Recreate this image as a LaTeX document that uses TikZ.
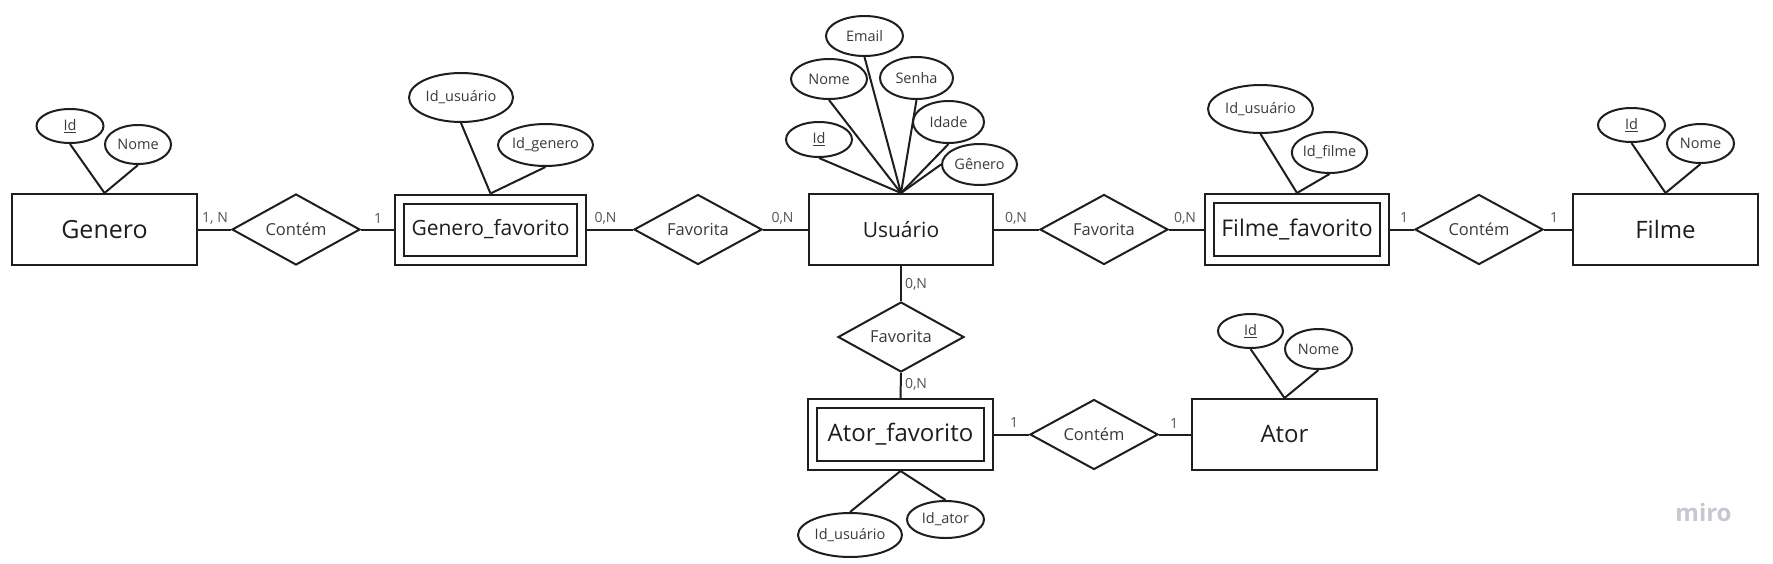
\documentclass[tikz,border=0pt]{standalone}
\usepackage{fontspec}
\setmainfont{Open Sans}
\usetikzlibrary{shapes.geometric}
\definecolor{ink}{HTML}{1E1E1E}
\definecolor{attrtxt}{HTML}{3A3A3A}
\definecolor{cardtxt}{HTML}{555555}
\definecolor{mirogray}{HTML}{C6C7D0}
\tikzset{
  entity/.style={draw=ink, line width=2pt, rectangle, inner sep=0pt, text=ink, minimum width=185pt, minimum height=71pt},
  weakent/.style={entity, double=white, double distance=7pt, outer sep=5.5pt},
  attr/.style={draw=ink, ellipse, line width=2pt, inner sep=0pt, text=attrtxt, font=\fontsize{14.5}{17}\selectfont},
  rel/.style={draw=ink, diamond, aspect=1.8, line width=2pt, inner sep=0pt, text=attrtxt, font=\fontsize{16.5}{20}\selectfont, minimum width=128pt, minimum height=70pt},
  card/.style={inner sep=0pt, text=cardtxt, font=\fontsize{14}{16}\selectfont},
  link/.style={draw=ink, line width=2pt}
}
\begin{document}
\begin{tikzpicture}[x=1pt,y=-1pt]
\useasboundingbox[fill=white] (0,0) rectangle (1773,563);

% entities
\node[entity, font=\fontsize{25}{30}\selectfont] (gen) at (104.5,229.5) {Genero};
\node[weakent, minimum width=182pt, minimum height=61pt, font=\fontsize{21}{25}\selectfont] (gf) at (490.5,229.5) {Genero\_favorito};
\node[entity, minimum width=184pt, font=\fontsize{21}{25}\selectfont] (usu) at (901,229.5) {Usuário};
\node[weakent, minimum width=175pt, minimum height=62pt, font=\fontsize{23}{27}\selectfont] (ff) at (1297,229.5) {Filme\_favorito};
\node[entity, font=\fontsize{24}{28}\selectfont] (fil) at (1665.5,229.5) {Filme};
\node[weakent, minimum width=176pt, minimum height=62pt, font=\fontsize{24}{28}\selectfont] (af) at (900.5,434.5) {Ator\_favorito};
\node[entity, font=\fontsize{24}{28}\selectfont] (ator) at (1284.5,434.5) {Ator};

% relationships
\node[rel, minimum height=71pt] (c1) at (296,229.5) {Contém};
\node[rel] (fav1) at (698,229.5) {Favorita};
\node[rel] (fav2) at (1104,229.5) {Favorita};
\node[rel] (c2) at (1479,229.5) {Contém};
\node[rel, minimum width=126pt] (fav3) at (901,337) {Favorita};
\node[rel] (c3) at (1094,434.5) {Contém};

% attributes
\node[attr, minimum width=67pt, minimum height=34pt] (genid) at (70,126) {\underline{Id}};
\node[attr, minimum width=66pt, minimum height=39pt] (gennome) at (138,144.5) {Nome};
\node[attr, minimum width=104pt, minimum height=49pt] (gfus) at (461,97.5) {Id\_usuário};
\node[attr, minimum width=95pt, minimum height=42pt] (gfgen) at (545.5,145) {Id\_genero};
\node[attr, minimum width=77pt, minimum height=40pt] (uemail) at (864.5,36) {Email};
\node[attr, minimum width=76pt, minimum height=40pt] (unome) at (829,79) {Nome};
\node[attr, minimum width=73pt, minimum height=42pt] (usenha) at (916.5,78) {Senha};
\node[attr, minimum width=71pt, minimum height=42pt] (uidade) at (948.5,122) {Idade};
\node[attr, minimum width=66pt, minimum height=35pt] (uid) at (819,139.5) {\underline{Id}};
\node[attr, minimum width=75pt, minimum height=41pt] (ugen) at (979.5,164.5) {Gênero};
\node[attr, minimum width=105pt, minimum height=48pt] (ffus) at (1260.5,109) {Id\_usuário};
\node[attr, minimum width=75pt, minimum height=41pt] (fffil) at (1329.5,152.5) {Id\_filme};
\node[attr, minimum width=67pt, minimum height=34pt] (filid) at (1631.5,125) {\underline{Id}};
\node[attr, minimum width=67pt, minimum height=39pt] (filnome) at (1700.5,143.5) {Nome};
\node[attr, minimum width=65pt, minimum height=34pt] (atorid) at (1250.5,331) {\underline{Id}};
\node[attr, minimum width=67pt, minimum height=40pt] (atornome) at (1318.5,349) {Nome};
\node[attr, minimum width=104pt, minimum height=44pt] (afus) at (850,535) {Id\_usuário};
\node[attr, minimum width=77pt, minimum height=37pt] (afat) at (945.5,519.5) {Id\_ator};

% attribute links
\draw[link] (genid.south) -- (gen.north);
\draw[link] (gennome.south) -- (gen.north);
\draw[link] (gfus.south) -- (gf.north);
\draw[link] (gfgen.south) -- (gf.north);
\draw[link] (uemail.south) -- (usu.north);
\draw[link] (unome.south) -- (usu.north);
\draw[link] (usenha.south) -- (usu.north);
\draw[link] (uidade.south) -- (usu.north);
\draw[link] (uid.south) -- (usu.north);
\draw[link] (ugen.west) -- (usu.north);
\draw[link] (ffus.south) -- (ff.north);
\draw[link] (fffil.south) -- (ff.north);
\draw[link] (filid.south) -- (fil.north);
\draw[link] (filnome.south) -- (fil.north);
\draw[link] (atorid.south) -- (ator.north);
\draw[link] (atornome.south) -- (ator.north);
\draw[link] (afus.north) -- (af.south);
\draw[link] (afat.north) -- (af.south);

% relationship links
\draw[link] (gen.east) -- (c1.west);
\draw[link] (c1.east) -- (gf.west);
\draw[link] (gf.east) -- (fav1.west);
\draw[link] (fav1.east) -- (usu.west);
\draw[link] (usu.east) -- (fav2.west);
\draw[link] (fav2.east) -- (ff.west);
\draw[link] (ff.east) -- (c2.west);
\draw[link] (c2.east) -- (fil.west);
\draw[link] (usu.south) -- (fav3.north);
\draw[link] (fav3.south) -- (af.north);
\draw[link] (af.east) -- (c3.west);
\draw[link] (c3.east) -- (ator.west);

% cardinalities
\node[card] (k1) at (215,218) {1, N};
\node[card] (k2) at (378,218) {1};
\node[card] (k3) at (605.5,218) {0,N};
\node[card] (k4) at (782.5,218) {0,N};
\node[card] (k5) at (1016,218) {0,N};
\node[card] (k6) at (1185,218) {0,N};
\node[card] (k7) at (1404,217) {1};
\node[card] (k8) at (1554,217) {1};
\node[card] (k9) at (916,284) {0,N};
\node[card] (k10) at (916,384) {0,N};
\node[card] (k11) at (1014,422) {1};
\node[card] (k12) at (1174,423) {1};

% watermark
\node[anchor=base, inner sep=0pt, text=mirogray, font=\fontsize{24}{28}\selectfont\bfseries] (miro) at (1703.5,521) {miro};
\end{tikzpicture}
\end{document}
